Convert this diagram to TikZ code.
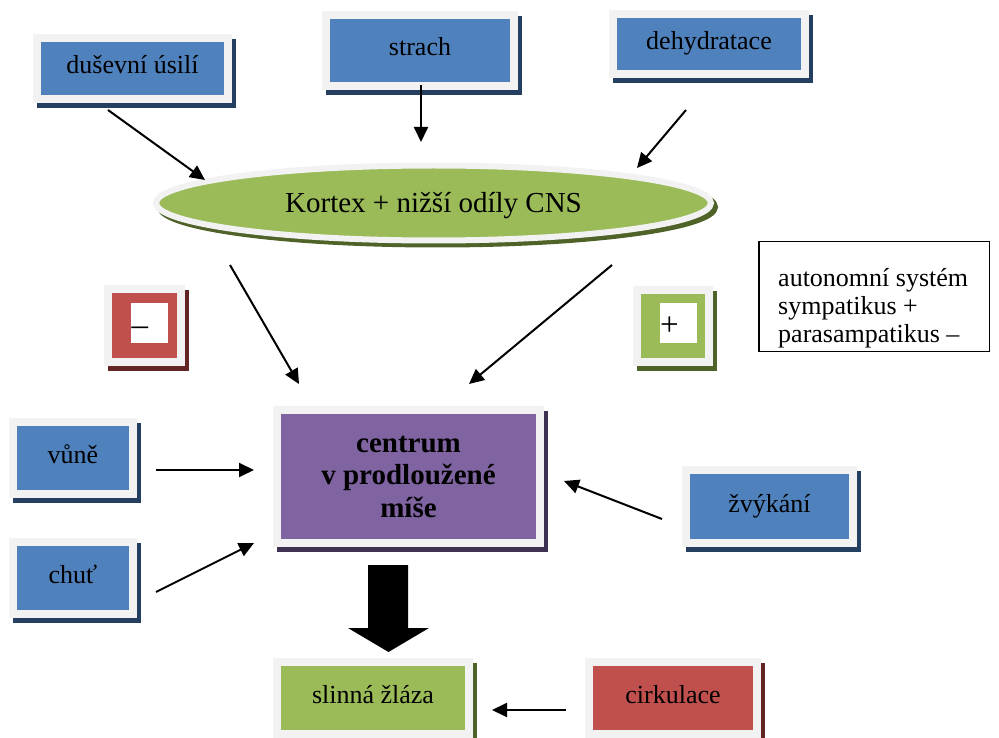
\documentclass[tikz,border=0pt]{standalone}
\usepackage{fontspec}
\setmainfont{Liberation Serif}
\usetikzlibrary{shapes.geometric,arrows.meta}

\definecolor{boxblue}{HTML}{4F81BD}
\definecolor{blueshade}{HTML}{243F60}
\definecolor{boxred}{HTML}{C0504D}
\definecolor{redshade}{HTML}{632523}
\definecolor{boxgreen}{HTML}{9BBB59}
\definecolor{greenshade}{HTML}{4F6228}
\definecolor{boxpurple}{HTML}{8064A2}
\definecolor{purpleshade}{HTML}{3F3151}
\definecolor{rim}{HTML}{F2F2F2}

\tikzset{
  card/.style 2 args={rectangle, fill=#1, draw=rim, line width=8pt,
    inner sep=0pt, outer sep=0pt,
    preaction={fill=#2, draw=#2, line width=8pt,
      transform canvas={shift={(4pt,-5pt)}}},
    font=\fontsize{26}{30}\selectfont, text height=17pt, text depth=6pt},
  bluecard/.style={card={boxblue}{blueshade}},
  redcard/.style={card={boxred}{redshade}},
  greencard/.style={card={boxgreen}{greenshade}},
  purplecard/.style={card={boxpurple}{purpleshade}},
  signsq/.style={rectangle, fill=white, inner sep=0pt, outer sep=0pt,
    minimum width=37pt, minimum height=40pt},
  signtext/.style={inner sep=0pt, font=\fontsize{33}{33}\selectfont},
  link/.style={line width=2pt, -{Triangle[length=15pt,width=14pt]}},
}

\begin{document}
\begin{tikzpicture}[x=1pt, y=-1pt]
\useasboundingbox (0,0) rectangle (999,738);

% top inputs
\node[bluecard, minimum width=191pt, minimum height=61pt] (dusevni) at (132.5,68.5) {duševní úsilí};
\node[bluecard, minimum width=188pt, minimum height=71pt] (strach) at (420,50.5) {strach};
\node[bluecard, minimum width=192pt, minimum height=60pt] (dehydr) at (709,44) {dehydratace};

% cortex ellipse
\node[ellipse, fill=boxgreen, draw=rim, line width=6pt, inner sep=0pt,
      minimum width=555pt, minimum height=75pt,
      preaction={fill=greenshade, draw=greenshade, line width=6pt,
        transform canvas={shift={(4pt,-4pt)}}},
      font=\fontsize{29}{32}\selectfont, text height=20pt, text depth=0pt]
      (kortex) at (433.5,203) {Kortex + nižší odíly CNS};

% sign boxes
\node[redcard, minimum width=73pt, minimum height=73pt] (minusbox) at (144.5,325.5) {};
\node[signsq] (minussq) at (149.5,323) {};
\node[signtext, anchor=base west] (minussign) at (131.5,335) {–};

\node[greencard, minimum width=72pt, minimum height=72pt] (plusbox) at (673,326) {};
\node[signsq] (plussq) at (678,323) {};
\node[signtext, anchor=base west] (plussign) at (660,335.5) {+};

% legend
\node[draw=black, line width=1.5pt, inner sep=0pt, minimum width=230.5pt, minimum height=109.5pt]
      (legend) at (874,296.5) {};
\node[anchor=west, align=left, inner sep=0pt, font=\fontsize{26}{28}\selectfont]
      (legendtext) at (778,308) {autonomní systém\\sympatikus +\\parasampatikus –};

% centre
\node[purplecard, minimum width=263pt, minimum height=133pt, align=center,
      font=\fontsize{29}{32.5}\selectfont\bfseries, text height=, text depth=]
      (centrum) at (408.5,476.5) {centrum\\v prodloužené\\míše};

% side inputs
\node[bluecard, minimum width=120pt, minimum height=72pt] (vune) at (73,458) {vůně};
\node[bluecard, minimum width=120pt, minimum height=72pt] (chut) at (73,578) {chuť};
\node[bluecard, minimum width=167pt, minimum height=73pt] (zvykani) at (769.5,506.5) {žvýkání};

% bottom row
\node[greencard, minimum width=192pt, minimum height=72pt] (slinna) at (373,698) {slinná žláza};
\node[redcard, minimum width=168pt, minimum height=72pt] (cirk) at (673,698) {cirkulace};

% connector end points
\coordinate (dusevni-out) at (108,110);  \coordinate (kortex-inA) at (205,180);
\coordinate (strach-out)  at (421,85);   \coordinate (kortex-inB) at (421,142);
\coordinate (dehydr-out)  at (686,110);  \coordinate (kortex-inC) at (637,168);
\coordinate (kortex-outL) at (230,265);  \coordinate (centrum-inL) at (299,384);
\coordinate (kortex-outR) at (612,265);  \coordinate (centrum-inR) at (469,384);
\coordinate (vune-out)    at (156,470);  \coordinate (centrum-inA) at (254,470);
\coordinate (chut-out)    at (156,592);  \coordinate (centrum-inB) at (254,543);
\coordinate (zvykani-out) at (662,519);  \coordinate (centrum-inC) at (564,481);
\coordinate (cirk-out)    at (566,710);  \coordinate (slinna-in)   at (492,710);

\draw[link] (dusevni-out) -- (kortex-inA);
\draw[link] (strach-out) -- (kortex-inB);
\draw[link] (dehydr-out) -- (kortex-inC);
\draw[link] (kortex-outL) -- (centrum-inL);
\draw[link] (kortex-outR) -- (centrum-inR);
\draw[link] (vune-out) -- (centrum-inA);
\draw[link] (chut-out) -- (centrum-inB);
\draw[link] (zvykani-out) -- (centrum-inC);
\draw[link] (cirk-out) -- (slinna-in);

% block arrow from the centre to the gland
\fill[black] (368,565) -- (408,565) -- (408,628) -- (429,628) -- (388.5,652)
  -- (348,628) -- (368,628) -- cycle;

\end{tikzpicture}
\end{document}
